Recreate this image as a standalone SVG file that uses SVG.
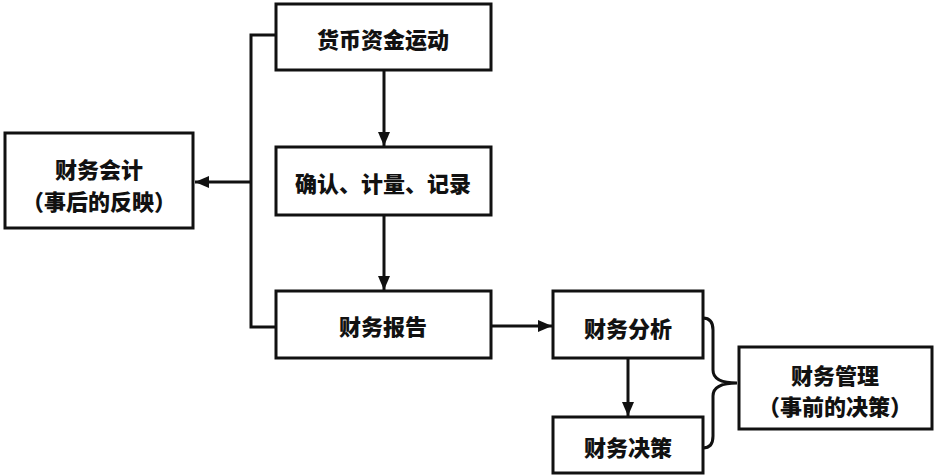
<svg xmlns="http://www.w3.org/2000/svg" width="936" height="476" viewBox="0 0 936 476">
<style>
.box{fill:#fff;stroke:#111;stroke-width:3}
.ln{fill:none;stroke:#111;stroke-width:3}
text{font-family:"Noto Sans CJK SC","Noto Sans",sans-serif;font-weight:900;font-size:22px;fill:#111;text-anchor:middle;dominant-baseline:central}
</style>
<defs>
<marker id="ah" viewBox="0 0 14 12" refX="14" refY="6" markerWidth="14" markerHeight="12" markerUnits="userSpaceOnUse" orient="auto">
<path d="M0,0 L14,6 L0,12 Z" fill="#111"/>
</marker>
</defs>
<g id="connectors">
<path class="ln" d="M276,35 H251 V327 H276"/>
<path class="ln" d="M251,182 H195" marker-end="url(#ah)"/>
<path class="ln" d="M384,70 V146" marker-end="url(#ah)"/>
<path class="ln" d="M384,215 V290" marker-end="url(#ah)"/>
<path class="ln" d="M491,326 H552" marker-end="url(#ah)"/>
<path class="ln" d="M628,358 V416" marker-end="url(#ah)"/>
<path class="ln" d="M703,318 Q713,318 713,330 V370 Q713,383 737,383 Q713,383 713,396 V436 Q713,448 703,448"/>
</g>
<g id="n1"><rect class="box" x="276" y="4" width="215" height="66"/><text x="383" y="38">货币资金运动</text></g>
<g id="n2"><rect class="box" x="276" y="147" width="215" height="68"/><text x="383" y="182">确认、计量、记录</text></g>
<g id="n3"><rect class="box" x="276" y="291" width="215" height="67"/><text x="383" y="325">财务报告</text></g>
<g id="n4"><rect class="box" x="5" y="133" width="188" height="95"/><text x="99" y="168">财务会计</text><text x="99" y="200">（事后的反映）</text></g>
<g id="n5"><rect class="box" x="553" y="291" width="150" height="67"/><text x="628" y="327">财务分析</text></g>
<g id="n6"><rect class="box" x="553" y="417" width="150" height="56"/><text x="628" y="446">财务决策</text></g>
<g id="n7"><rect class="box" x="739" y="347" width="193" height="82"/><text x="835" y="374">财务管理</text><text x="835" y="405">（事前的决策）</text></g>
</svg>
